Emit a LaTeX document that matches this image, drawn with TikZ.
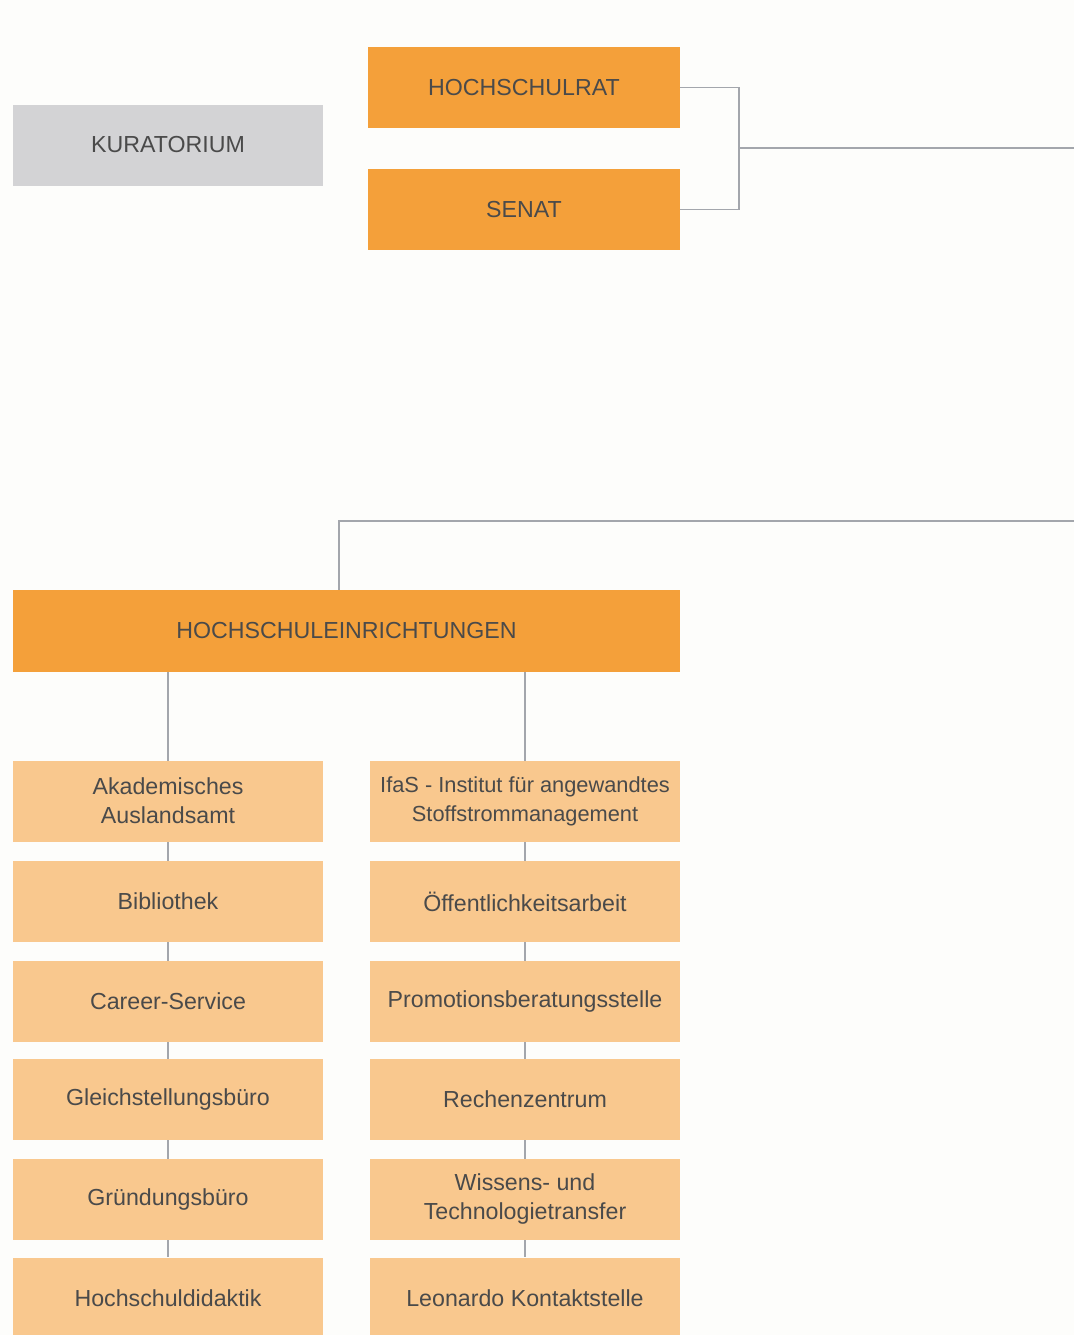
\documentclass[tikz,border=0pt]{standalone}
\usepackage{fontspec}
\setmainfont{Liberation Sans}
\usetikzlibrary{backgrounds}
\definecolor{hsorange}{HTML}{F4A03A}
\definecolor{hslight}{HTML}{F9C88E}
\definecolor{hsgrey}{HTML}{D3D3D5}
\definecolor{hstext}{HTML}{4A4A4A}
\definecolor{hsline}{HTML}{A3A6AC}
\definecolor{hsback}{HTML}{FDFDFB}
\tikzstyle{main}=[rectangle,fill=hsorange,text=hstext,inner sep=0pt,minimum height=40.5pt,align=center,font=\fontsize{11.6}{14.5}\selectfont]
\tikzstyle{sub}=[main,fill=hslight,minimum width=155pt]
\tikzstyle{kur}=[main,fill=hsgrey,minimum width=155pt]
\tikzstyle{con}=[draw=hsline,line width=0.8pt]

\begin{document}
\begin{tikzpicture}[x=0.5pt,y=-0.5pt]
\useasboundingbox (0,0) rectangle (1074,1335);
    \node[kur] (k) at (168,145) {KURATORIUM};
    \node[main,minimum width=156pt] (r) at (524,87.5) {HOCHSCHULRAT};
    \node[main,minimum width=156pt] (s) at (524,209.5) {SENAT};
    \node[main,minimum width=333.5pt,minimum height=41pt] (h) at (346.5,631) {HOCHSCHULEINRICHTUNGEN};
    % left column
    \node[sub] (l1) at (168,801) {Akademisches\\Auslandsamt};
    \node[sub] (l2) at (168,901.5) {Bibliothek};
    \node[sub] (l3) at (168,1001) {Career-Service};
    \node[sub] (l4) at (168,1099.5) {Gleichstellungsbüro};
    \node[sub] (l5) at (168,1199) {Gründungsbüro};
    \node[sub] (l6) at (168,1298) {Hochschuldidaktik};
    % right column
    \node[sub,font=\fontsize{10.9}{14.5}\selectfont] (r1) at (525,801) {IfaS - Institut für angewandtes\\Stoffstrommanagement};
    \node[sub] (r2) at (525,901.5) {Öffentlichkeitsarbeit};
    \node[sub] (r3) at (525,1001) {Promotionsberatungsstelle};
    \node[sub] (r4) at (525,1099.5) {Rechenzentrum};
    \node[sub] (r5) at (525,1199) {Wissens- und\\Technologietransfer};
    \node[sub] (r6) at (525,1298) {Leonardo Kontaktstelle};
    \coordinate (j) at (739,148);
    \coordinate (e1) at (1074,148);
    \coordinate (t) at (339,521);
    \coordinate (e2) at (1074,521);
    \draw[con] (r.east) -| (j) |- (s.east);
    \draw[con] (j) -- (e1);
    \draw[con] (e2) -- (t) -- (t |- h.north);
    \begin{scope}[on background layer]
    \fill[hsback] (0,0) rectangle (1074,1335);
    \draw[con] (h.south -| l1) -- (l6);
    \draw[con] (h.south -| r1) -- (r6);
    \end{scope}
\end{tikzpicture}
\end{document}
